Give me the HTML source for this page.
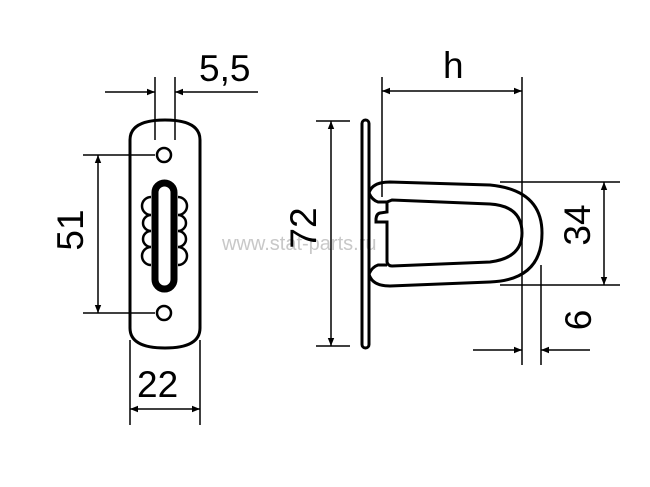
<!DOCTYPE html>
<html><head><meta charset="utf-8"><style>
html,body{margin:0;padding:0;background:#fff;}
svg{display:block;}
text{font-family:"Liberation Sans",sans-serif;}
</style></head><body>
<svg width="650" height="487" viewBox="0 0 650 487" xmlns="http://www.w3.org/2000/svg">
<defs>
<marker id="a" viewBox="0 0 10 10" refX="10" refY="5" markerWidth="16" markerHeight="8" orient="auto-start-reverse" markerUnits="userSpaceOnUse"><path d="M0,1 L10,5 L0,9 Z" fill="#000"/></marker>
</defs>
<text x="222" y="250" font-size="20" fill="#c8c8c8">www.stat-parts.ru</text>
<g stroke="#000" fill="none">
<path d="M130,140 Q130,120 165,120 Q200,120 200,140 L200,328 Q200,348 165,348 Q130,348 130,328 Z" stroke-width="3"/>
<circle cx="164" cy="155" r="7" stroke-width="2.5"/>
<circle cx="164" cy="313" r="7" stroke-width="2.5"/>
<g stroke-width="2.5">
<path d="M151,197 A9,9 0 0 0 151,215 A8,8 0 0 0 151,231 A8,8 0 0 0 151,247 A9,9 0 0 0 151,265"/>
<path d="M178,197 A9,9 0 0 1 178,215 A8,8 0 0 1 178,231 A8,8 0 0 1 178,247 A9,9 0 0 1 178,265"/>
</g>
<rect x="155" y="183" width="19" height="106" rx="9.5" stroke-width="7" fill="#fff"/>
<g stroke-width="1.5">
<line x1="155" y1="77" x2="155" y2="140"/><line x1="175" y1="77" x2="175" y2="140"/>
<line x1="105" y1="92" x2="155" y2="92" marker-end="url(#a)"/>
<line x1="258" y1="92" x2="175" y2="92" marker-end="url(#a)"/>
<line x1="83" y1="155" x2="155" y2="155"/><line x1="83" y1="313" x2="155" y2="313"/>
<line x1="98" y1="155" x2="98" y2="313" marker-start="url(#a)" marker-end="url(#a)"/>
<line x1="130" y1="340" x2="130" y2="425"/><line x1="200" y1="340" x2="200" y2="425"/>
<line x1="130" y1="409" x2="200" y2="409" marker-start="url(#a)" marker-end="url(#a)"/>
</g>
<rect x="362" y="120" width="7" height="228" rx="3.5" stroke-width="3"/>
<path d="M369,193 Q372,182 390,182 L490,185 Q542,190 542,233 Q542,280 490,282 L390,286 Q372,286 369,274" stroke-width="3"/>
<path d="M369,193 Q372,200 378,202 L387,202 L387,212 L380,213 Q376,214 376,220 L376,222 L387,222 L387,262 Q388,266 392,266 L490,262 Q522,258 522,233 Q522,206 490,204 L392,200 L387,202" stroke-width="3"/>
<path d="M369,274 Q372,267 378,265 L387,265" stroke-width="3"/>
<g stroke-width="1.5">
<line x1="316" y1="121" x2="350" y2="121"/><line x1="316" y1="346" x2="350" y2="346"/>
<line x1="331" y1="121" x2="331" y2="346" marker-start="url(#a)" marker-end="url(#a)"/>
<line x1="382" y1="77" x2="382" y2="197"/><line x1="522" y1="77" x2="522" y2="365"/>
<line x1="382" y1="91" x2="522" y2="91" marker-start="url(#a)" marker-end="url(#a)"/>
<line x1="500" y1="182" x2="620" y2="182"/><line x1="500" y1="285" x2="620" y2="285"/>
<line x1="604" y1="182" x2="604" y2="285" marker-start="url(#a)" marker-end="url(#a)"/>
<line x1="541" y1="265" x2="541" y2="365"/>
<line x1="473" y1="350" x2="522" y2="350" marker-end="url(#a)"/>
<line x1="590" y1="350" x2="541" y2="350" marker-end="url(#a)"/>
</g>
</g>
<g fill="#000" font-size="37">
<text x="199" y="81">5,5</text>
<text x="443" y="78">h</text>
<text x="137" y="397">22</text>
<text transform="translate(83,230) rotate(-90)" text-anchor="middle">51</text>
<text transform="translate(316,228) rotate(-90)" text-anchor="middle">72</text>
<text transform="translate(590,225) rotate(-90)" text-anchor="middle">34</text>
<text transform="translate(591,320) rotate(-90)" text-anchor="middle">6</text>
</g>
</svg>
</body></html>
